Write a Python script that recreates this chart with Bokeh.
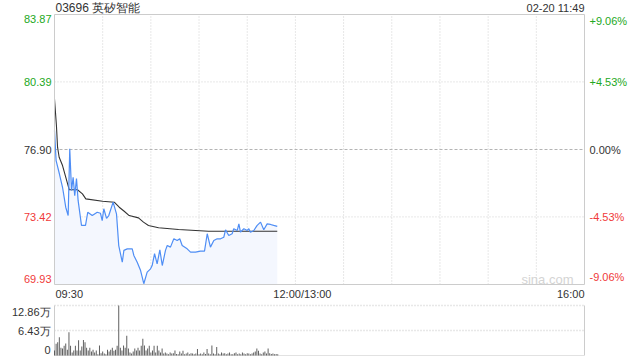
from bokeh.plotting import figure
from bokeh.models import Range1d, ColumnDataSource
from bokeh.core.properties import value
from bokeh.layouts import column
from bokeh.embed import file_html
from bokeh.resources import INLINE

# ---------------- data ----------------
title_text = "03696 英矽智能"
stamp_text = "02-20 11:49"
prev_close = 76.90
price_min, price_max = 69.93, 83.87

# minutes after 09:30 and last price
price_t = [0, 1, 3, 5, 7, 8.5, 9.5, 10.6, 11.6, 12.6, 13.7, 14.7, 16.8, 19.3, 20.7, 23.5,
           26.6, 28.6, 29.7, 30.7, 32.4, 33.8, 36.5, 38.6, 40, 42.2, 43.2, 45.3, 48.4, 49.4,
           51.5, 53.6, 55.6, 57.7, 59.8, 60.8, 62.3, 63.9, 65.6, 67.1, 69.1, 70.2, 72.2, 74.3,
           76.4, 78, 79.5, 82.6, 84.7, 87.8, 90.9, 93.4, 95.1, 97.1, 99.2, 101.3, 103.4, 105.4,
           106.5, 108.5, 110.6, 111.6, 113.8, 114.8, 115.8, 117.9, 120, 121, 122, 124.1, 126.2,
           128.3, 130.3, 132.4, 134.5, 136.5, 138.7]
price = [77.88, 76.33, 75.66, 74.95, 73.92, 73.49, 76.94, 74.78, 75.47, 74.52, 75.40, 74.27,
         72.98, 72.98, 73.66, 73.49, 73.66, 73.61, 73.23, 73.84, 73.34, 73.49, 74.18, 73.58,
         71.94, 71.08, 71.69, 71.77, 71.77, 71.43, 71.08, 70.65, 69.97, 70.57, 70.74, 70.91,
         71.52, 71.00, 71.72, 70.91, 71.69, 71.94, 71.86, 72.29, 72.20, 72.29, 71.94, 71.77,
         71.60, 71.60, 71.65, 71.65, 72.55, 71.86, 72.20, 72.29, 72.29, 72.37, 72.75, 72.46,
         72.55, 72.81, 72.72, 73.06, 72.63, 72.81, 72.72, 72.81, 72.63, 72.72, 72.98, 73.15,
         72.76, 73.06, 73.03, 72.98, 72.93]

# minutes after 09:30 and average price
avg_t = [0, 1.2, 1.9, 2.9, 5, 7, 9.2, 14.3, 17.4, 19.5, 29.9, 37.2, 40.3, 43.4, 46.5, 52.3,
         55.4, 58.5, 64.8, 77.2, 95.9, 138.7]
avg = [79.5, 78.14, 77.02, 76.50, 76.07, 75.47, 74.82, 74.82, 74.61, 74.35, 74.23, 74.18,
       73.92, 73.71, 73.49, 73.37, 73.15, 72.98, 72.86, 72.77, 72.68, 72.68]

# volume per minute (万), 09:30 .. 11:49
volume = [1.3, 3.0, 3.4, 4.7, 2.0, 1.8, 2.5, 3.1, 1.5, 6.0,
          2.5, 0.8, 1.3, 2.5, 1.3, 3.9, 1.3, 2.3, 4.0, 3.4,
          2.0, 1.3, 2.0, 1.0, 1.5, 0.8, 1.3, 0.3, 2.6, 0.6,
          1.0, 0.5, 0.3, 1.5, 1.0, 1.5, 2.0, 1.2, 1.5, 2.5,
          12.86, 2.0, 1.3, 2.6, 2.0, 5.1, 1.8, 0.8, 0.5, 1.0,
          1.8, 1.3, 2.0, 1.3, 2.5, 4.3, 2.6, 1.3, 1.8, 2.5,
          0.8, 1.3, 2.5, 0.8, 2.5, 1.3, 0.8, 1.8, 0.5, 0.8,
          0.5, 0.3, 0.8, 0.5, 0.6, 1.3, 0.4, 0.3, 1.0, 0.5,
          1.2, 0.3, 0.5, 0.8, 0.3, 0.6, 0.5, 0.3, 0.5, 1.7,
          0.3, 0.5, 0.3, 0.8, 0.4, 1.7, 0.5, 0.3, 2.6, 0.5,
          0.3, 2.2, 0.5, 0.3, 0.8, 0.5, 0.6, 0.3, 0.5, 0.8,
          0.3, 0.3, 0.6, 0.8, 0.3, 0.5, 0.3, 0.8, 0.5, 0.3,
          0.6, 0.5, 0.3, 0.5, 0.8, 1.0, 1.8, 1.2, 0.5, 0.3,
          0.8, 1.0, 0.5, 1.8, 0.6, 0.4, 0.5, 0.3, 0.4, 0.3]
volume_t = list(range(len(volume)))

left_ticks = [83.87, 80.39, 76.90, 73.42, 69.93]
left_labels = ["83.87", "80.39", "76.90", "73.42", "69.93"]
right_labels = ["+9.06%", "+4.53%", "0.00%", "-4.53%", "-9.06%"]
vol_max = 12.86
vol_ticks = [12.86, 6.43, 0]
vol_labels = ["12.86万", "6.43万", "0"]
time_ticks = [0, 150, 330]
time_labels = ["09:30", "12:00/13:00", "16:00"]
grid_minutes = [30, 60, 90, 120, 150, 180, 210, 240, 270, 300]
session_len = 330

# ---------------- geometry / style ----------------
FONT = value("Liberation Sans")
GREEN = "#22a822"
RED = "#f03a3a"
DARK = "#333333"
GRID = "#d0d0d0"
BORDER = "#cccccc"

W = 640
FL, FR = 54, 584          # frame left/right pixel
MT, MB = 14, 284          # main frame top/bottom pixel
H1 = 300
VT, VB = 5, 55            # volume frame top/bottom pixel (within its canvas)
H2 = 60

xpu = (FR - FL) / session_len
x0 = -FL / xpu
x1 = session_len + (W - FR) / xpu
ypu = (MB - MT) / (price_max - price_min)
y_top = price_max + MT / ypu
y_bot = price_min - (H1 - MB) / ypu


def py(pix):
    return price_max - (pix - MT) / ypu


def px(pix):
    return (pix - FL) / xpu


p = figure(width=W, height=H1, output_backend="svg", toolbar_location=None,
           x_range=Range1d(x0, x1), y_range=Range1d(y_bot, y_top),
           x_axis_type=None, y_axis_type=None,
           min_border=0, min_border_left=0, min_border_right=0,
           min_border_top=0, min_border_bottom=0)
p.outline_line_color = None
p.background_fill_color = "white"
p.border_fill_color = "white"
p.grid.visible = False

# vertical grid
p.segment(x0=grid_minutes, y0=[price_min] * len(grid_minutes),
          x1=grid_minutes, y1=[price_max] * len(grid_minutes),
          line_color=GRID, line_dash="1 2", line_width=1)
# horizontal grid
inner = left_ticks[1:-1]
dotted = [v for v in inner if abs(v - prev_close) > 1e-6]
p.segment(x0=[0] * len(dotted), y0=dotted, x1=[session_len] * len(dotted), y1=dotted,
          line_color=GRID, line_dash="1 2", line_width=1)
p.segment(x0=[0], y0=[prev_close], x1=[session_len], y1=[prev_close],
          line_color="#b4b4b4", line_dash="3 2", line_width=1)

# fill + lines
p.varea(x=price_t, y1=[price_min] * len(price_t), y2=price,
        fill_color="#f4f7fe", fill_alpha=1.0)
p.line(avg_t, avg, line_color=DARK, line_width=1.1)
p.line(price_t, price, line_color="#4f8ef5", line_width=1.2)

# frame border
p.rect(x=[session_len / 2], y=[(price_min + price_max) / 2], width=session_len,
       height=price_max - price_min, fill_color=None, line_color=BORDER, line_width=1)


def col_for(v):
    if v > prev_close + 1e-6:
        return GREEN
    if v < prev_close - 1e-6:
        return RED
    return DARK


baselines = ["top", "middle", "middle", "middle", "bottom"]
label_y = [left_ticks[0], left_ticks[1], left_ticks[2], left_ticks[3], py(282)]
lsrc = ColumnDataSource(dict(x=[px(FL - 3)] * 5, y=label_y, t=left_labels,
                             c=[col_for(v) for v in left_ticks], b=baselines))
p.text(x="x", y="y", text="t", text_color="c", text_baseline="b", text_align="right",
       text_font=FONT, text_font_size="11px", source=lsrc)
rsrc = ColumnDataSource(dict(x=[px(FR + 5)] * 5, y=label_y, t=right_labels,
                             c=[col_for(v) for v in left_ticks], b=baselines))
p.text(x="x", y="y", text="t", text_color="c", text_baseline="b", text_align="left",
       text_font=FONT, text_font_size="11px", source=rsrc)

tsrc = ColumnDataSource(dict(x=[time_ticks[0] + px(FL + 1), time_ticks[1] + 7 / xpu,
                                time_ticks[2]],
                             y=[py(293)] * 3, t=time_labels,
                             a=["left", "center", "right"]))
p.text(x="x", y="y", text="t", text_align="a", text_baseline="middle",
       text_color=DARK, text_font=FONT, text_font_size="11px", source=tsrc)

p.text(x=[px(FL + 1)], y=[py(7)], text=[title_text], text_align="left",
       text_baseline="middle", text_color=DARK, text_font=FONT, text_font_size="12px")
p.text(x=[session_len], y=[py(7)], text=[stamp_text], text_align="right",
       text_baseline="middle", text_color=DARK, text_font=FONT, text_font_size="11px")
p.text(x=[px(573)], y=[py(279)], text=["sina.com"], text_align="right",
       text_baseline="middle", text_color="#d4d4d4", text_font=FONT, text_font_size="13px")

# ---------------- volume panel ----------------
vpu = (VB - VT) / vol_max
v = figure(width=W, height=H2, output_backend="svg", toolbar_location=None,
           x_range=Range1d(x0, x1),
           y_range=Range1d(-(H2 - VB) / vpu, vol_max + VT / vpu),
           x_axis_type=None, y_axis_type=None,
           min_border=0, min_border_left=0, min_border_right=0,
           min_border_top=0, min_border_bottom=0)
v.outline_line_color = None
v.background_fill_color = "white"
v.border_fill_color = "white"
v.grid.visible = False

v.segment(x0=[0, session_len], y0=[0, 0], x1=[0, session_len], y1=[vol_max, vol_max],
          line_color=BORDER, line_width=1)
v.segment(x0=[0, 0], y0=vol_ticks[:2], x1=[session_len] * 2, y1=vol_ticks[:2],
          line_color=GRID, line_dash="1 2", line_width=1.5)
v.segment(x0=[0], y0=[0], x1=[session_len], y1=[0], line_color="#e2e2e2", line_width=1)

v.vbar(x=volume_t, top=volume, width=0.6, fill_color="#5a5a5a", line_color=None)

vlab_y = [vol_ticks[0], vol_ticks[1], 2 / vpu]
vsrc = ColumnDataSource(dict(x=[px(FL - 4)] * 3, y=vlab_y, t=vol_labels,
                             b=["top", "middle", "bottom"]))
v.text(x="x", y="y", text="t", text_align="right", text_baseline="b",
       text_color=DARK, text_font=FONT, text_font_size="11px", source=vsrc)

layout = column(p, v, spacing=0)
open("out.html", "w").write(file_html(layout, INLINE))
